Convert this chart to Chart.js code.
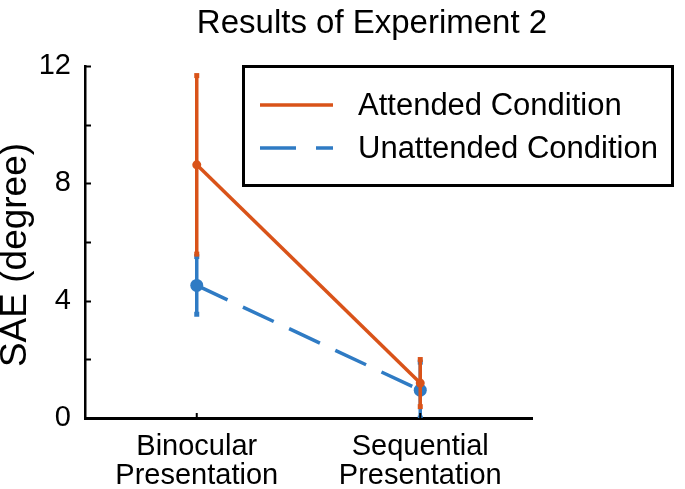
<!DOCTYPE html>
<html>
<head>
<meta charset="utf-8">
<script src="https://cdn.jsdelivr.net/npm/chart.js@4/dist/chart.umd.min.js"></script>
<style>
  html, body { margin: 0; padding: 0; background: #fff; }
  #wrap { width: 685px; height: 489px; }
</style>
</head>
<body>
<div id="wrap"><canvas id="myChart" width="685" height="489"></canvas></div>
<script>
const categories = [['Binocular', 'Presentation'], ['Sequential', 'Presentation']];
const attendedMean = [8.63, 1.19];
const attendedErr = [3.06, 0.82];
const unattendedMean = [4.52, 0.95];
const unattendedErr = [1.0, 0.97];
const yTicks = [0, 2, 4, 6, 8, 10, 12];
const yLabels = [0, 4, 8, 12];

const ORANGE = '#D95319';
const BLUE = '#2F7BC4';
const FONT = '"Liberation Sans", Arial, sans-serif';

const errors = [attendedErr, unattendedErr];

// error bars, drawn under each dataset's line
const errorBarPlugin = {
  id: 'errorBars',
  beforeDatasetDraw(chart, args) {
    const ds = chart.data.datasets[args.index];
    const err = errors[args.index];
    const x = chart.scales.x, y = chart.scales.y, area = chart.chartArea;
    const ctx = chart.ctx;
    ctx.save();
    ctx.beginPath();
    ctx.rect(area.left, area.top - 2, area.right - area.left, area.bottom - area.top + 2);
    ctx.clip();
    ctx.strokeStyle = ds.borderColor;
    ctx.fillStyle = ds.borderColor;
    ctx.lineWidth = 3.5;
    ds.data.forEach((v, i) => {
      const px = x.getPixelForValue(i);
      const top = y.getPixelForValue(v + err[i]);
      const bot = y.getPixelForValue(v - err[i]);
      ctx.beginPath();
      ctx.moveTo(px, top);
      ctx.lineTo(px, bot);
      ctx.stroke();
      ctx.fillRect(px - 2.5, top - 2, 5, 5);
      ctx.fillRect(px - 2.5, bot - 3, 5, 5);
    });
    ctx.restore();
  }
};

// inward ticks, titles and the boxed legend
const decorPlugin = {
  id: 'decor',
  afterDraw(chart) {
    const ctx = chart.ctx;
    const x = chart.scales.x, y = chart.scales.y, area = chart.chartArea;
    ctx.save();
    ctx.strokeStyle = '#000';
    ctx.lineWidth = 2;
    yTicks.forEach(t => {
      const py = Math.round(y.getPixelForValue(t)) + 0.5;
      ctx.beginPath();
      ctx.moveTo(area.left, py);
      ctx.lineTo(area.left + 6, py);
      ctx.stroke();
    });
    categories.forEach((c, i) => {
      const px = x.getPixelForValue(i);
      ctx.beginPath();
      ctx.moveTo(px, area.bottom);
      ctx.lineTo(px, area.bottom - 5);
      ctx.stroke();
    });

    ctx.fillStyle = '#000';
    ctx.font = '33px ' + FONT;
    ctx.textAlign = 'center';
    ctx.textBaseline = 'alphabetic';
    ctx.fillText('Results of Experiment 2', 372, 33);

    ctx.save();
    ctx.translate(26, 255);
    ctx.rotate(-Math.PI / 2);
    ctx.font = '37px ' + FONT;
    ctx.fillText('SAE (degree)', 0, 0);
    ctx.restore();

    // legend
    ctx.lineWidth = 3;
    ctx.strokeRect(243.5, 66.5, 429, 119);
    ctx.lineWidth = 3.5;
    ctx.strokeStyle = ORANGE;
    ctx.beginPath();
    ctx.moveTo(260, 105);
    ctx.lineTo(333, 105);
    ctx.stroke();
    ctx.strokeStyle = BLUE;
    ctx.setLineDash([36, 20]);
    ctx.beginPath();
    ctx.moveTo(260, 148);
    ctx.lineTo(333, 148);
    ctx.stroke();
    ctx.setLineDash([]);
    ctx.font = '31px ' + FONT;
    ctx.textAlign = 'left';
    ctx.fillText(chart.data.datasets[0].label, 358, 115);
    ctx.fillText(chart.data.datasets[1].label, 358, 158);
    ctx.restore();
  }
};

const ctx = document.querySelector('#myChart').getContext('2d');

new Chart(ctx, {
  type: 'line',
  data: {
    labels: categories,
    datasets: [{
      label: 'Attended Condition',
      data: attendedMean,
      borderColor: ORANGE,
      backgroundColor: ORANGE,
      borderWidth: 3.5,
      pointRadius: 4.5,
      pointBorderWidth: 0,
    },
    {
      label: 'Unattended Condition',
      data: unattendedMean,
      borderColor: BLUE,
      backgroundColor: BLUE,
      borderWidth: 3.5,
      borderDash: [34, 17],
      pointRadius: 6.5,
      pointBorderWidth: 0,
    }]
  },
  options: {
    responsive: false,
    animation: false,
    layout: {
      padding: { top: 66, right: 153, left: 0, bottom: 0 }
    },
    plugins: {
      legend: { display: false },
      tooltip: { enabled: false },
    },
    scales: {
      x: {
        offset: true,
        grid: { display: false },
        border: { display: true, color: '#000', width: 3 },
        ticks: {
          color: '#000',
          padding: 7,
          maxRotation: 0,
          autoSkip: false,
          font: { family: FONT, size: 29, lineHeight: 0.98 },
        },
        afterFit(scale) { scale.height = 71; },
      },
      y: {
        min: 0,
        max: 12,
        grid: { display: false },
        border: { display: true, color: '#000', width: 2.5 },
        ticks: {
          stepSize: 2,
          color: '#000',
          padding: 6,
          font: { family: FONT, size: 29 },
          callback: v => yLabels.includes(v) ? v : '',
        },
        afterFit(scale) { scale.width = 85; },
      }
    }
  },
  plugins: [errorBarPlugin, decorPlugin],
});
</script>
</body>
</html>
